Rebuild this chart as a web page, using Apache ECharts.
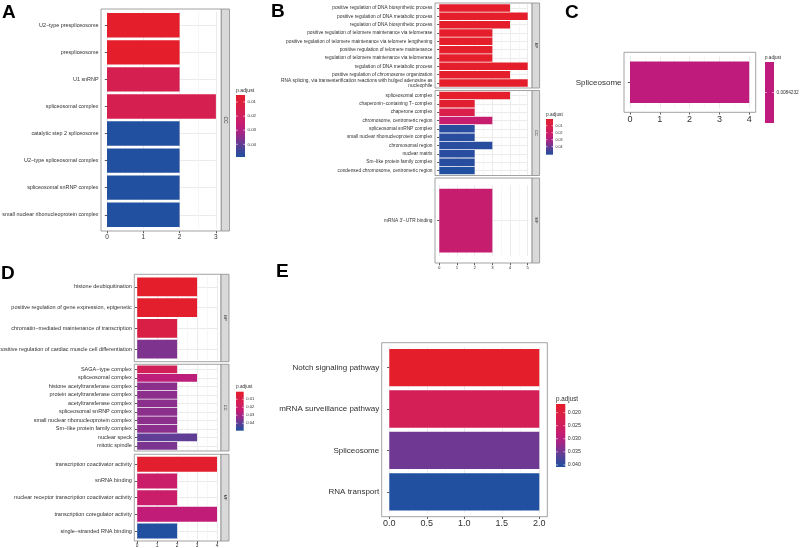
<!DOCTYPE html>
<html><head><meta charset="utf-8">
<script src="https://cdn.jsdelivr.net/npm/echarts@6/dist/echarts.min.js"></script>
<style>html,body{margin:0;padding:0;background:#fff}#c{width:800px;height:548px}</style>
</head><body><div id="c"></div>
<script>
// ================= DATA =================
// Panel A (GO CC)
const aTerms = ['U2−type prespliceosome','prespliceosome','U1 snRNP','spliceosomal complex','catalytic step 2 spliceosome','U2−type spliceosomal complex','spliceosomal snRNP complex','small nuclear ribonucleoprotein complex'];
const aCounts = [2,2,2,3,2,2,2,2];
const aPadj = [0.0050,0.0050,0.0160,0.0160,0.0490,0.0490,0.0490,0.0490];
const aLegendTicks = [0.01,0.02,0.03,0.04];

// Panel B (GO BP / CC / MF)
const bBpTerms = ['positive regulation of DNA biosynthetic process','positive regulation of DNA metabolic process','regulation of DNA biosynthetic process','positive regulation of telomere maintenance via telomerase','positive regulation of telomere maintenance via telomere lengthening','positive regulation of telomere maintenance','regulation of telomere maintenance via telomerase','regulation of DNA metabolic process','positive regulation of chromosome organization','RNA splicing, via transesterification reactions with bulged adenosine as\nnucleophile'];
const bBpCounts = [4,5,4,3,3,3,3,5,4,5];
const bBpPadj = [0.0004,0.0004,0.0004,0.0004,0.0004,0.0004,0.0004,0.0004,0.0004,0.0004];
const bCcTerms = ['spliceosomal complex','chaperonin−containing T−complex','chaperone complex','chromosome, centromeric region','spliceosomal snRNP complex','small nuclear ribonucleoprotein complex','chromosomal region','nuclear matrix','Sm−like protein family complex','condensed chromosome, centromeric region'];
const bCcCounts = [4,2,2,3,2,2,3,2,2,2];
const bCcPadj = [0.0004,0.0030,0.0106,0.0234,0.0500,0.0500,0.0500,0.0500,0.0500,0.0514];
const bMfTerms = ['mRNA 3\'−UTR binding'];
const bMfCounts = [3];
const bMfPadj = [0.0234];
const bLegendTicks = [0.01,0.02,0.03,0.04];

// Panel C (KEGG)
const cTerms = ['Spliceosome'];
const cCounts = [4];
const cPadj = [0.0084232];
const cLegendTicks = [0.0084232];

// Panel D (GO BP / CC / MF)
const dBpTerms = ['histone deubiquitination','positive regulation of gene expression, epigenetic','chromatin−mediated maintenance of transcription','positive regulation of cardiac muscle cell differentiation'];
const dBpCounts = [3,3,2,2];
const dBpPadj = [0.0005,0.0015,0.0093,0.0356];
const dCcTerms = ['SAGA−type complex','spliceosomal complex','histone acetyltransferase complex','protein acetyltransferase complex','acetyltransferase complex','spliceosomal snRNP complex','small nuclear ribonucleoprotein complex','Sm−like protein family complex','nuclear speck','mitotic spindle'];
const dCcCounts = [2,3,2,2,2,2,2,2,3,2];
const dCcPadj = [0.0151,0.0259,0.0337,0.0337,0.0337,0.0337,0.0337,0.0337,0.0395,0.0361];
const dMfTerms = ['transcription coactivator activity','snRNA binding','nuclear receptor transcription coactivator activity','transcription coregulator activity','single−stranded RNA binding'];
const dMfCounts = [4,2,2,4,2];
const dMfPadj = [0.0020,0.0210,0.0210,0.0250,0.04925];
const dLegendTicks = [0.01,0.02,0.03,0.04];

// Panel E (KEGG)
const eTerms = ['Notch signaling pathway','mRNA surveillance pathway','Spliceosome','RNA transport'];
const eCounts = [2,2,2,2];
const ePadj = [0.0167,0.0235,0.0350,0.0408];
const eLegendTicks = [0.020,0.025,0.030,0.035,0.040];

// ================= STYLE =================
const FONT = "'Liberation Sans',Arial,Helvetica,sans-serif";
const BOLD = "'Liberation Sans',Arial,sans-serif";
const COLORS = ['#E41E2A','#DE1F3B','#D91F4A','#D31F58','#CD1E67','#C21C77','#A82484','#86308E','#603E95','#3D4699','#2250A0'];
const C_SINGLE = '#BF1B7C';
const TXT = '#303030';
const BORDER = '#8C8C8C';

const grid=[], xAxis=[], yAxis=[], series=[], graphic=[], visualMap=[];

function facet(c){
  const n = c.terms.length;
  const pitch = (c.b - c.t)/(n + 0.2);
  const pad = c.pad != null ? c.pad : 0.1*pitch;
  const gTop = c.t + pad, gH = (c.b - c.t) - 2*pad;
  const i = grid.length;
  grid.push({left:c.zeroX, top:gTop, width:c.xmax*c.unit, height:gH, containLabel:false, outerBoundsMode:'none'});
  xAxis.push({type:'value', gridIndex:i, min:0, max:c.xmax, interval:c.interval, offset:pad,
    axisLine:{show:false},
    axisTick:{show:!!c.showX, length:2.2, lineStyle:{color:TXT, width:0.8}},
    axisLabel:{show:!!c.showX, fontSize:c.xFont, color:TXT, fontFamily:FONT, margin:2.5, formatter:c.fmt || (v=>String(v))},
    splitLine:{show:true, lineStyle:{color:'#EBEBEB', width:1}},
    minorTick:{show:false, splitNumber:2},
    minorSplitLine:{show:true, lineStyle:{color:'#F3F3F3', width:0.7}}});
  yAxis.push({type:'category', gridIndex:i, data:c.terms, inverse:true, offset:c.zeroX - c.l,
    axisLine:{show:false},
    axisTick:{show:true, alignWithLabel:true, length:2.2, lineStyle:{color:TXT, width:0.8}},
    axisLabel:{interval:0, fontSize:c.yFont, color:TXT, fontFamily:FONT, margin:2.5, lineHeight:c.yFont*1.15},
    splitLine:{show:true, alignWithLabel:true, interval:0, lineStyle:{color:'#EBEBEB', width:1}}});
  const si = series.length;
  series.push({type:'bar', xAxisIndex:i, yAxisIndex:i, barWidth:c.barWidth || '90%', silent:true,
    encode:{x:0, y:1},
    data:c.terms.map((t,j)=>[c.counts[j], t, c.padj[j]])});
  graphic.push({type:'rect', silent:true, z:100, shape:{x:c.l, y:c.t, width:c.r - c.l, height:c.b - c.t},
    style:{fill:null, stroke:BORDER, lineWidth:0.8}});
  if (c.strip){
    graphic.push({type:'rect', silent:true, z:100, shape:{x:c.r, y:c.t, width:c.sw, height:c.b - c.t},
      style:{fill:'#D9D9D9', stroke:BORDER, lineWidth:0.8}});
    graphic.push({type:'text', silent:true, z:101, x:c.r + c.sw/2, y:(c.t + c.b)/2, rotation:-Math.PI/2,
      style:{text:c.strip, fontSize:c.sFont, fill:TXT, align:'center', verticalAlign:'middle', fontFamily:FONT}});
  }
  return si;
}

function colorbar(lg){
  graphic.push({type:'text', silent:true, z:100, x:lg.x, y:lg.y - 2,
    style:{text:'p.adjust', fontSize:lg.tFont, fill:TXT, align:'left', verticalAlign:'bottom', fontFamily:FONT}});
  const fill = lg.single ? lg.single : new echarts.graphic.LinearGradient(0,0,0,1,
    COLORS.map((col,k)=>({offset:k/(COLORS.length-1), color:col})));
  graphic.push({type:'rect', silent:true, z:100, shape:{x:lg.x, y:lg.y, width:lg.w, height:lg.h}, style:{fill:fill}});
  lg.ticks.forEach(v=>{
    const yy = lg.single ? lg.y + lg.h/2 : lg.y + (v - lg.min)/(lg.max - lg.min)*lg.h;
    graphic.push({type:'line', silent:true, z:101, shape:{x1:lg.x, y1:yy, x2:lg.x + lg.w*0.2, y2:yy}, style:{stroke:'#fff', lineWidth:0.6}});
    graphic.push({type:'line', silent:true, z:101, shape:{x1:lg.x + lg.w*0.8, y1:yy, x2:lg.x + lg.w, y2:yy}, style:{stroke:'#fff', lineWidth:0.6}});
    graphic.push({type:'text', silent:true, z:101, x:lg.x + lg.w + 2.5, y:yy,
      style:{text:lg.fmt ? lg.fmt(v) : String(v), fontSize:lg.lFont, fill:TXT, align:'left', verticalAlign:'middle', fontFamily:FONT}});
  });
}

function letter(t, x, y){
  graphic.push({type:'text', silent:true, z:100, x:x, y:y,
    style:{text:t, fontSize:19, fontWeight:'bold', fill:'#000', align:'left', verticalAlign:'top', fontFamily:BOLD}});
}
const mn = a => Math.min.apply(null, a), mx = a => Math.max.apply(null, a);

// ---- Panel A ----
const sA = facet({terms:aTerms, counts:aCounts, padj:aPadj, l:101, r:221.3, t:9, b:231, zeroX:107, unit:36.3, xmax:3, interval:1,
  showX:true, strip:'CC', sw:8.2, yFont:5.4, xFont:6.5, sFont:5});
const aMin = mn(aPadj), aMax = mx(aPadj);
visualMap.push({type:'continuous', show:false, seriesIndex:[sA], dimension:2, min:aMin, max:aMax, inRange:{color:COLORS}});
colorbar({x:236, y:95, w:9, h:62, tFont:5.2, lFont:4.4, min:aMin, max:aMax, ticks:aLegendTicks});
letter('A', 2, 3);

// ---- Panel B ----
const bBase = {l:435, r:532.1, zeroX:439.3, unit:17.68, xmax:5, interval:1, sw:7.5, yFont:4.8, xFont:4.3, sFont:4};
const sB1 = facet(Object.assign({}, bBase, {terms:bBpTerms, counts:bBpCounts, padj:bBpPadj, t:3, b:88, strip:'BP'}));
const sB2 = facet(Object.assign({}, bBase, {terms:bCcTerms, counts:bCcCounts, padj:bCcPadj, t:90.5, b:175.5, strip:'CC'}));
const sB3 = facet(Object.assign({}, bBase, {terms:bMfTerms, counts:bMfCounts, padj:bMfPadj, t:178, b:263, strip:'MF', showX:true}));
const bAll = bBpPadj.concat(bCcPadj, bMfPadj);
const bMin = mn(bAll), bMax = mx(bAll);
visualMap.push({type:'continuous', show:false, seriesIndex:[sB1,sB2,sB3], dimension:2, min:bMin, max:bMax, inRange:{color:COLORS}});
colorbar({x:546, y:119, w:7, h:35.7, tFont:4.8, lFont:3.6, min:bMin, max:bMax, ticks:bLegendTicks});
letter('B', 271, 2);

// ---- Panel C ----
const sC = facet({terms:cTerms, counts:cCounts, padj:cPadj, l:624, r:755.7, t:52.3, b:112.3, zeroX:630, unit:29.8, xmax:4, interval:1,
  pad:4, barWidth:'80%', showX:true, yFont:8, xFont:9});
visualMap.push({type:'continuous', show:false, seriesIndex:[sC], dimension:2, min:cPadj[0]*0.99, max:cPadj[0]*1.01, inRange:{color:[C_SINGLE, C_SINGLE]}});
colorbar({x:765, y:62, w:9, h:61, tFont:4.6, lFont:4.7, single:C_SINGLE, ticks:cLegendTicks});
letter('C', 565, 3);

// ---- Panel D ----
const dBase = {l:134.3, r:221, zeroX:137.2, unit:19.95, xmax:4, interval:1, sw:8, yFont:5.5, xFont:4.8, sFont:4};
const sD1 = facet(Object.assign({}, dBase, {terms:dBpTerms, counts:dBpCounts, padj:dBpPadj, t:274.3, b:361.7, strip:'BP'}));
const sD2 = facet(Object.assign({}, dBase, {terms:dCcTerms, counts:dCcCounts, padj:dCcPadj, t:364.3, b:451, strip:'CC'}));
const sD3 = facet(Object.assign({}, dBase, {terms:dMfTerms, counts:dMfCounts, padj:dMfPadj, t:454.3, b:541, strip:'MF', showX:true}));
const dAll = dBpPadj.concat(dCcPadj, dMfPadj);
const dMin = mn(dAll), dMax = mx(dAll);
visualMap.push({type:'continuous', show:false, seriesIndex:[sD1,sD2,sD3], dimension:2, min:dMin, max:dMax, inRange:{color:COLORS}});
colorbar({x:236, y:391.7, w:7.7, h:39, tFont:4.7, lFont:4.2, min:dMin, max:dMax, ticks:dLegendTicks});
letter('D', 1, 264);

// ---- Panel E ----
const sE = facet({terms:eTerms, counts:eCounts, padj:ePadj, l:381.7, r:547.3, t:342.7, b:516.7, zeroX:389.3, unit:75, xmax:2, interval:0.5,
  showX:true, yFont:8, xFont:9, fmt:v=>v.toFixed(1)});
const eMin = mn(ePadj), eMax = mx(ePadj);
visualMap.push({type:'continuous', show:false, seriesIndex:[sE], dimension:2, min:eMin, max:eMax, inRange:{color:COLORS}});
colorbar({x:556, y:404, w:9.3, h:63, tFont:6.3, lFont:5.2, min:eMin, max:eMax, ticks:eLegendTicks, fmt:v=>v.toFixed(3)});
letter('E', 276, 262);

const chart = echarts.init(document.getElementById('c'), null, {renderer:'canvas'});
chart.setOption({animation:false, backgroundColor:'#fff', grid, xAxis, yAxis, series, visualMap, graphic});
</script></body></html>
